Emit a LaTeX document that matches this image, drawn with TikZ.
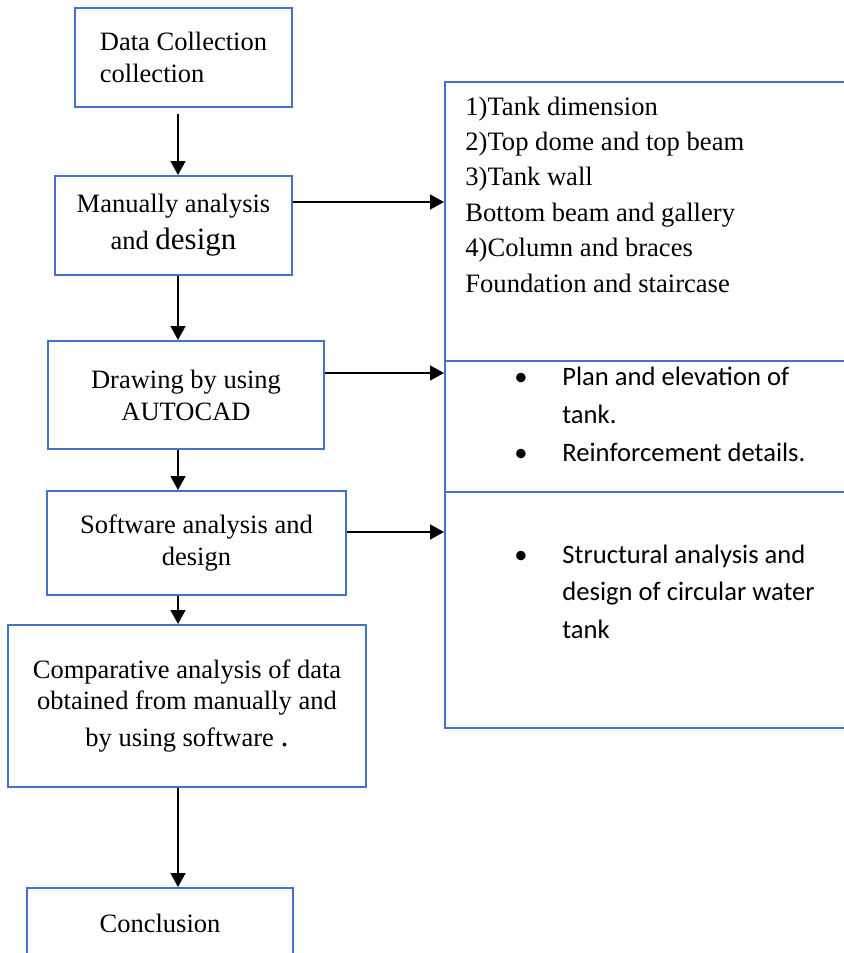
\documentclass[tikz,border=0pt]{standalone}
\usepackage{fontspec}
\setmainfont{Liberation Serif}
\newfontfamily\calibri{Carlito}
\usetikzlibrary{arrows.meta}
\definecolor{boxblue}{RGB}{68,114,196}
\begin{document}
\begin{tikzpicture}[x=0.5pt,y=-0.5pt,
    blk/.style={draw=boxblue, line width=1pt, align=center, inner sep=0pt, font=\fontsize{13.25}{16}\selectfont},
    panel/.style={draw=boxblue, line width=1pt, anchor=north west, minimum width=220pt},
    arr/.style={line width=0.8pt, -{Triangle[length=7pt,width=7.5pt]}}]
  \useasboundingbox (0,0) rectangle (844,953);
  \clip (0,0) rectangle (844,953);
  % steps of the work
  \node [blk, align=left, minimum width=108.5pt, minimum height=49.5pt] (collect) at (183.5,57.5) {Data Collection\\collection};
  \node [blk, minimum width=118.5pt, minimum height=49.5pt] (manual) at (173.5,225.5) {Manually analysis\\[2.5pt]and {\fontsize{15.5}{16}\selectfont design}};
  \node [blk, minimum width=138pt, minimum height=54pt] (autocad) at (186,395) {Drawing by using\\AUTOCAD};
  \node [blk, minimum width=149.5pt, minimum height=52pt] (software) at (196.5,543) {Software analysis and\\design};
  \node [blk, minimum width=179pt, minimum height=81pt] (compare) at (187,706) {Comparative analysis of data\\[-0.5pt]obtained from manually and\\[2.5pt]by using software {\fontsize{16}{16}\selectfont.}};
  \node [blk, minimum width=133pt, minimum height=35pt] (concl) at (160,923) {Conclusion};
  % outputs on the right
  \node [panel, minimum height=139.5pt] (items) at (444,81) {};
  \node [panel, minimum height=65.5pt] (drawings) at (444,360) {};
  \node [panel, minimum height=118pt] (results) at (444,491) {};
  \node [anchor=base west, inner sep=0pt, font=\fontsize{13.3}{17.7}\selectfont] (itemtext) at (465,115) {\begin{tabular}[t]{@{}l@{}}
    1)Tank dimension\\ 2)Top dome and top beam\\ 3)Tank wall\\ Bottom beam and gallery\\ 4)Column and braces\\ Foundation and staircase
  \end{tabular}};
  \node [anchor=base west, inner sep=0pt, font=\calibri\fontsize{13.3}{19}\selectfont] (drawtext) at (514,385) {\begin{tabular}[t]{@{}p{24pt}@{}l@{}}
    \textbullet & Plan and elevation of\\ & tank.\\ \textbullet & Reinforcement details.
  \end{tabular}};
  \node [anchor=base west, inner sep=0pt, font=\calibri\fontsize{13.3}{18.75}\selectfont] (restext) at (514,563) {\begin{tabular}[t]{@{}p{24pt}@{}l@{}}
    \textbullet & Structural analysis and\\ & design of circular water\\ & tank
  \end{tabular}};
  % arrows
  \coordinate (axis) at (178,0);
  \draw [arr, shorten <=3pt] (collect.south -| axis) -- (manual.north -| axis);
  \foreach \a/\b in {manual/autocad, autocad/software, software/compare, compare/concl}
    \draw [arr] (\a.south -| axis) -- (\b.north -| axis);
  \draw [arr] ([yshift=11.75pt]manual.east) -- ([yshift=11.75pt]manual.east -| items.west);
  \draw [arr] ([yshift=11pt]autocad.east) -- ([yshift=11pt]autocad.east -| drawings.west);
  \draw [arr] ([yshift=5.5pt]software.east) -- ([yshift=5.5pt]software.east -| results.west);
\end{tikzpicture}
\end{document}
